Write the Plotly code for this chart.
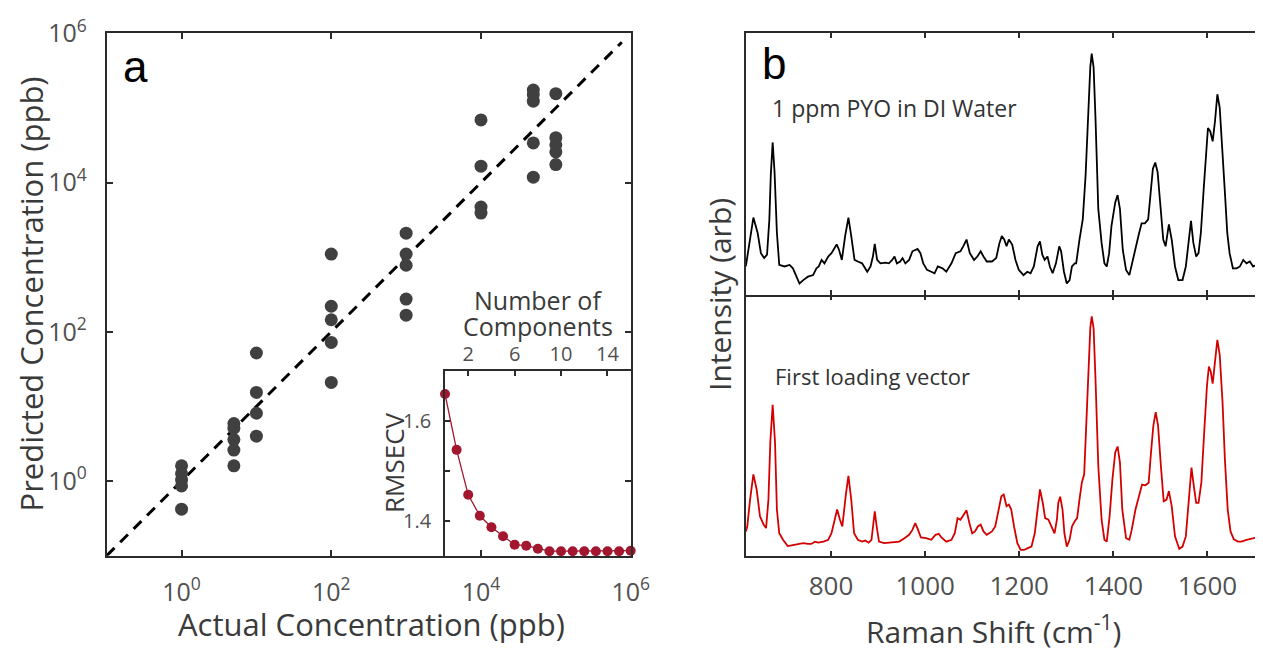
import plotly.graph_objects as go

# ---------------------------------------------------------------- panel a data
actual_ppb = [1, 1, 1, 1, 1,
              5, 5, 5, 5, 5,
              10, 10, 10, 10,
              100, 100, 100, 100, 100,
              1000, 1000, 1000, 1000, 1000,
              1e4, 1e4, 1e4, 1e4,
              5e4, 5e4, 5e4, 5e4, 5e4,
              1e5, 1e5, 1e5, 1e5, 1e5]
predicted_ppb = [1.6, 1.26, 1.03, 0.86, 0.42,
                 5.9, 5.1, 3.6, 2.6, 1.6,
                 52, 15.4, 8.1, 4.0,
                 1100, 220, 145, 72, 21,
                 2100, 1100, 780, 275, 167,
                 69000, 16600, 4700, 3900,
                 174000, 151000, 123000, 34000, 11800,
                 155000, 40000, 32000, 25700, 17400]
ideal_line = [0.1, 7.6e5]

n_components = list(range(0, 17))
rmsecv = [1.655, 1.543, 1.453, 1.411, 1.388, 1.370, 1.353, 1.351, 1.345,
          1.340, 1.340, 1.340, 1.340, 1.340, 1.340, 1.340, 1.341]

log_ticks = [1, 100, 1e4, 1e6]
log_labels = ["10<sup>0</sup>", "10<sup>2</sup>", "10<sup>4</sup>", "10<sup>6</sup>"]

# ---------------------------------------------------------------- panel b data
pyo_shift = [619, 626, 635, 644, 651, 658, 664, 669, 672, 676, 680, 685, 690, 701, 712,
             719, 726, 733, 741, 751, 762, 769, 774, 780, 786, 794, 801, 812, 817, 823,
             830, 837, 843, 850, 857, 866, 877, 884, 889, 893, 898, 905, 916, 923, 930,
             935, 940, 947, 952, 958, 966, 973, 984, 990, 996, 1004, 1013, 1020, 1027, 1037,
             1045, 1056, 1065, 1075, 1081, 1088, 1095, 1104, 1111, 1118, 1124, 1131, 1142, 1151, 1158,
             1163, 1168, 1173, 1178, 1185, 1192, 1199, 1209, 1217, 1224, 1231, 1239, 1244, 1249, 1254,
             1260, 1265, 1271, 1278, 1285, 1289, 1295, 1301, 1307, 1312, 1318, 1321, 1328, 1335, 1341,
             1346, 1351, 1354, 1358, 1362, 1368, 1375, 1381, 1386, 1391, 1396, 1404, 1409, 1414, 1420,
             1427, 1434, 1441, 1447, 1454, 1460, 1467, 1474, 1479, 1484, 1489, 1494, 1500, 1506, 1511,
             1518, 1524, 1531, 1538, 1547, 1554, 1559, 1565, 1570, 1576, 1581, 1586, 1592, 1597, 1601,
             1606, 1611, 1616, 1621, 1626, 1632, 1637, 1642, 1647, 1654, 1662, 1669, 1676, 1683, 1690,
             1697, 1705, 1710]
pyo_intensity = [10.9, 18.6, 29.6, 23.8, 16.0, 14.1, 15.4, 28.9, 45.7, 58.3, 47.0, 23.8, 11.5, 10.9, 11.5,
                 10.2, 7.6, 4.4, 5.7, 7.0, 7.6, 10.2, 10.9, 13.4, 12.1, 14.7, 16.0, 19.3, 17.3, 13.4,
                 22.5, 29.6, 22.5, 13.4, 12.8, 12.1, 8.9, 10.9, 14.7, 19.5, 13.4, 12.1, 12.4, 12.1, 13.4,
                 14.7, 12.1, 12.8, 14.1, 12.1, 13.4, 16.7, 17.6, 16.0, 12.1, 9.6, 8.9, 8.3, 10.9, 10.2,
                 8.9, 12.1, 16.0, 16.7, 18.6, 21.2, 16.0, 13.4, 14.7, 16.7, 14.7, 12.8, 12.8, 14.1, 19.9,
                 22.5, 21.2, 18.6, 21.2, 19.3, 13.4, 9.6, 7.6, 8.9, 8.3, 10.9, 18.6, 20.5, 15.4, 13.4,
                 14.7, 10.9, 8.3, 12.1, 18.6, 16.7, 8.9, 4.4, 5.7, 10.9, 12.1, 12.1, 21.2, 28.9, 45.7,
                 69.0, 87.1, 92.2, 87.1, 67.7, 32.8, 19.9, 12.1, 10.9, 16.0, 26.4, 35.4, 38.2, 32.8, 17.3,
                 9.6, 7.6, 13.4, 18.6, 23.1, 27.4, 27.4, 28.9, 39.3, 48.3, 50.6, 47.0, 34.1, 21.2, 18.6,
                 27.0, 21.2, 10.9, 5.7, 5.7, 10.9, 18.6, 28.3, 19.9, 14.7, 16.0, 23.8, 40.6, 56.1, 63.8,
                 62.5, 58.7, 66.4, 76.7, 71.6, 56.1, 39.3, 23.8, 16.0, 10.2, 10.2, 10.9, 13.4, 12.1, 12.8,
                 10.9, 11.5, 12.1]

loading_shift = [619, 622, 628, 635, 642, 649, 657, 662, 667, 671, 676, 681, 685, 690, 698,
                 708, 719, 730, 741, 751, 758, 766, 773, 784, 794, 801, 807, 813, 819, 824,
                 832, 837, 843, 849, 857, 866, 873, 880, 886, 890, 893, 897, 902, 913, 923,
                 934, 945, 956, 966, 973, 979, 985, 991, 1002, 1013, 1022, 1029, 1034, 1045, 1056,
                 1063, 1069, 1075, 1082, 1088, 1094, 1100, 1106, 1112, 1118, 1124, 1131, 1142, 1149, 1156,
                 1162, 1167, 1173, 1178, 1183, 1189, 1196, 1203, 1210, 1217, 1226, 1233, 1239, 1244, 1250,
                 1255, 1262, 1267, 1275, 1280, 1283, 1287, 1292, 1296, 1301, 1307, 1312, 1318, 1323, 1328,
                 1333, 1338, 1341, 1346, 1351, 1354, 1358, 1362, 1368, 1375, 1381, 1386, 1392, 1398, 1404,
                 1409, 1414, 1419, 1427, 1434, 1439, 1447, 1454, 1461, 1468, 1475, 1480, 1485, 1490, 1495,
                 1501, 1507, 1513, 1518, 1524, 1531, 1540, 1547, 1554, 1560, 1566, 1571, 1576, 1581, 1587,
                 1593, 1599, 1603, 1607, 1611, 1616, 1621, 1626, 1632, 1637, 1643, 1649, 1656, 1665, 1672,
                 1683, 1694, 1705, 1710]
loading_value = [9.3, 11.2, 21.5, 31.2, 25.4, 15.1, 11.9, 10.6, 21.5, 43.5, 57.9, 43.5, 17.7, 8.6, 6.1,
                 3.7, 4.1, 4.5, 4.8, 4.5, 4.5, 5.4, 5.0, 5.4, 6.1, 8.6, 13.8, 17.7, 13.8, 11.2,
                 24.1, 30.6, 21.5, 8.6, 6.1, 5.4, 5.8, 5.0, 6.1, 13.8, 17.0, 11.2, 5.4, 4.8, 5.0,
                 5.2, 5.4, 6.7, 8.0, 9.9, 12.5, 9.9, 7.0, 6.7, 6.1, 8.0, 8.4, 7.1, 5.4, 6.1,
                 8.6, 14.4, 13.8, 15.7, 17.4, 12.5, 8.6, 9.3, 11.2, 11.9, 9.3, 8.0, 9.3, 11.2, 17.7,
                 22.8, 23.5, 19.0, 19.6, 17.7, 11.2, 4.8, 2.2, 2.2, 2.8, 3.5, 8.6, 19.0, 25.4, 20.3,
                 14.4, 13.8, 11.9, 8.6, 13.8, 20.3, 22.6, 17.7, 8.6, 3.5, 6.1, 11.2, 13.2, 14.4, 21.5,
                 28.0, 31.2, 43.5, 68.0, 87.3, 91.8, 87.3, 68.0, 34.4, 13.8, 6.1, 5.4, 15.1, 29.3, 39.6,
                 41.9, 35.7, 17.7, 6.7, 6.1, 9.9, 17.7, 22.8, 27.3, 27.0, 28.0, 39.6, 49.9, 55.1, 49.9,
                 34.4, 20.9, 21.5, 24.8, 19.0, 7.4, 2.6, 3.5, 7.4, 21.5, 33.8, 26.7, 20.3, 20.3, 28.0,
                 47.3, 65.4, 72.5, 70.6, 66.0, 74.4, 82.8, 77.0, 59.0, 37.0, 17.7, 9.3, 6.3, 5.4, 5.4,
                 6.1, 6.5, 7.0, 7.6]

raman_ticks = [800, 1000, 1200, 1400, 1600]
raman_range = [618.7, 1718]

# ---------------------------------------------------------------- styling
W, H = 1263, 650
OFF = 8  # page body offset of the plot div
FONT = "Open Sans"
AXIS_COL = "#2b2b2b"
TICK_COL = "#505050"
TITLE_COL = "#3a3a3a"
INSET_RED = "#a3162f"
SPEC_RED = "#d40000"


# positions are given in screen pixels of the reference picture
def px_x(v):
    return (v - OFF) / W


def px_y(v):
    return 1 - (v - OFF) / H


fig = go.Figure()

fig.add_trace(go.Scatter(x=ideal_line, y=ideal_line, mode="lines",
                         line=dict(color="black", width=3, dash="11px,8px"),
                         xaxis="x", yaxis="y", showlegend=False))
fig.add_trace(go.Scatter(x=actual_ppb, y=predicted_ppb, mode="markers",
                         marker=dict(color="#404040", size=13),
                         xaxis="x", yaxis="y", showlegend=False))
fig.add_trace(go.Scatter(x=n_components, y=rmsecv, mode="lines+markers",
                         line=dict(color=INSET_RED, width=1.3),
                         marker=dict(color=INSET_RED, size=10),
                         xaxis="x2", yaxis="y2", showlegend=False, cliponaxis=False))
fig.add_trace(go.Scatter(x=pyo_shift, y=pyo_intensity, mode="lines",
                         line=dict(color="black", width=1.8),
                         xaxis="x3", yaxis="y3", showlegend=False))
fig.add_trace(go.Scatter(x=loading_shift, y=loading_value, mode="lines",
                         line=dict(color=SPEC_RED, width=1.8),
                         xaxis="x4", yaxis="y4", showlegend=False))
# empty trace so the divider tick overlay axis is drawn
fig.add_trace(go.Scatter(x=[raman_range[0]], y=[0], mode="markers", opacity=0,
                         xaxis="x5", yaxis="y4", showlegend=False, hoverinfo="skip"))

common = dict(showgrid=False, zeroline=False, showline=True, linecolor=AXIS_COL,
              linewidth=1.8, ticks="inside", tickcolor=AXIS_COL, tickwidth=1.5,
              ticklen=6, automargin=False)

main_dom_x = [px_x(106.7), px_x(630.7)]
main_dom_y = [px_y(555.7), px_y(33.3)]
b_dom_x = [px_x(745.7), px_x(1263)]
divider = 295

fig.update_layout(
    width=W, height=H,
    margin=dict(l=0, r=0, t=0, b=0, autoexpand=False),
    paper_bgcolor="white", plot_bgcolor="rgba(0,0,0,0)",
    font=dict(family=FONT, color=TICK_COL),
    xaxis=dict(common, type="log", domain=main_dom_x, range=[-1, 6], mirror="ticks",
               tickvals=log_ticks, ticktext=log_labels, anchor="y",
               tickfont=dict(size=25, color=TICK_COL), ticklabelstandoff=13),
    yaxis=dict(common, type="log", domain=main_dom_y, range=[-1, 6], mirror="ticks",
               tickvals=log_ticks, ticktext=log_labels, anchor="x",
               tickfont=dict(size=25, color=TICK_COL), ticklabelstandoff=13),
    xaxis2=dict(common, domain=[px_x(445), px_x(630.7)], range=[0, 16], side="top",
                mirror=True, tickvals=[2, 6, 10, 14], anchor="y2",
                tickfont=dict(size=20, color=TICK_COL), ticklen=5),
    yaxis2=dict(common, domain=[px_y(555.7), px_y(371)], range=[1.331, 1.701],
                mirror=True, tickvals=[1.4, 1.5, 1.6], ticktext=["1.4", "", "1.6"],
                anchor="x2", tickfont=dict(size=20, color=TICK_COL), ticklen=5,
                ticklabelstandoff=8),
    xaxis3=dict(common, domain=b_dom_x, range=raman_range, mirror="ticks",
                tickvals=raman_ticks, showticklabels=False, anchor="y3", ticklen=5),
    yaxis3=dict(common, domain=[px_y(divider), px_y(33.3)], range=[0, 100],
                ticks="", showticklabels=False, anchor="x3"),
    xaxis4=dict(common, domain=b_dom_x, range=raman_range, mirror=False,
                tickvals=raman_ticks, anchor="y4", ticklen=5,
                tickfont=dict(size=26, color=TICK_COL), ticklabelstandoff=6),
    xaxis5=dict(common, domain=b_dom_x, range=raman_range, overlaying="x4",
                side="top", anchor="y4", showline=False, tickvals=raman_ticks,
                showticklabels=False, ticklen=5),
    yaxis4=dict(common, domain=[px_y(555.7), px_y(divider)], range=[0, 100],
                ticks="", showticklabels=False, anchor="x4"),
)

notes = [
    dict(text="a", x=px_x(121), y=px_y(67), xanchor="left", yanchor="middle",
         font=dict(family="Liberation Sans", size=44, color="black")),
    dict(text="b", x=px_x(760), y=px_y(63), xanchor="left", yanchor="middle",
         font=dict(family="Liberation Sans", size=44, color="black")),
    dict(text="1 ppm PYO in DI Water", x=px_x(770), y=px_y(108), xanchor="left",
         yanchor="middle", font=dict(size=23, color="#333333")),
    dict(text="First loading vector", x=px_x(773), y=px_y(376), xanchor="left",
         yanchor="middle", font=dict(size=22, color="#333333")),
    dict(text="Predicted Concentration (ppb)", x=px_x(30), y=px_y(294.5),
         textangle=-90, xanchor="center", yanchor="middle",
         font=dict(size=31, color=TITLE_COL)),
    dict(text="Actual Concentration (ppb)", x=px_x(371), y=px_y(624),
         xanchor="center", yanchor="middle", font=dict(size=31, color=TITLE_COL)),
    dict(text="Raman Shift (cm<sup>-1</sup>)", x=px_x(993), y=px_y(630),
         xanchor="center", yanchor="middle", font=dict(size=30, color=TITLE_COL)),
    dict(text="Intensity (arb)", x=px_x(719), y=px_y(295), textangle=-90,
         xanchor="center", yanchor="middle", font=dict(size=30, color=TITLE_COL)),
    dict(text="RMSECV", x=px_x(394), y=px_y(463), textangle=-90,
         xanchor="center", yanchor="middle", font=dict(size=26, color=TITLE_COL)),
    dict(text="Number of", x=px_x(537.5), y=px_y(300), xanchor="center",
         yanchor="middle", font=dict(size=25, color=TITLE_COL)),
    dict(text="Components", x=px_x(537.5), y=px_y(326), xanchor="center",
         yanchor="middle", font=dict(size=25, color=TITLE_COL)),
]
for n in notes:
    n.update(xref="paper", yref="paper", showarrow=False)
fig.update_layout(annotations=notes)

fig.write_html("out.html")
